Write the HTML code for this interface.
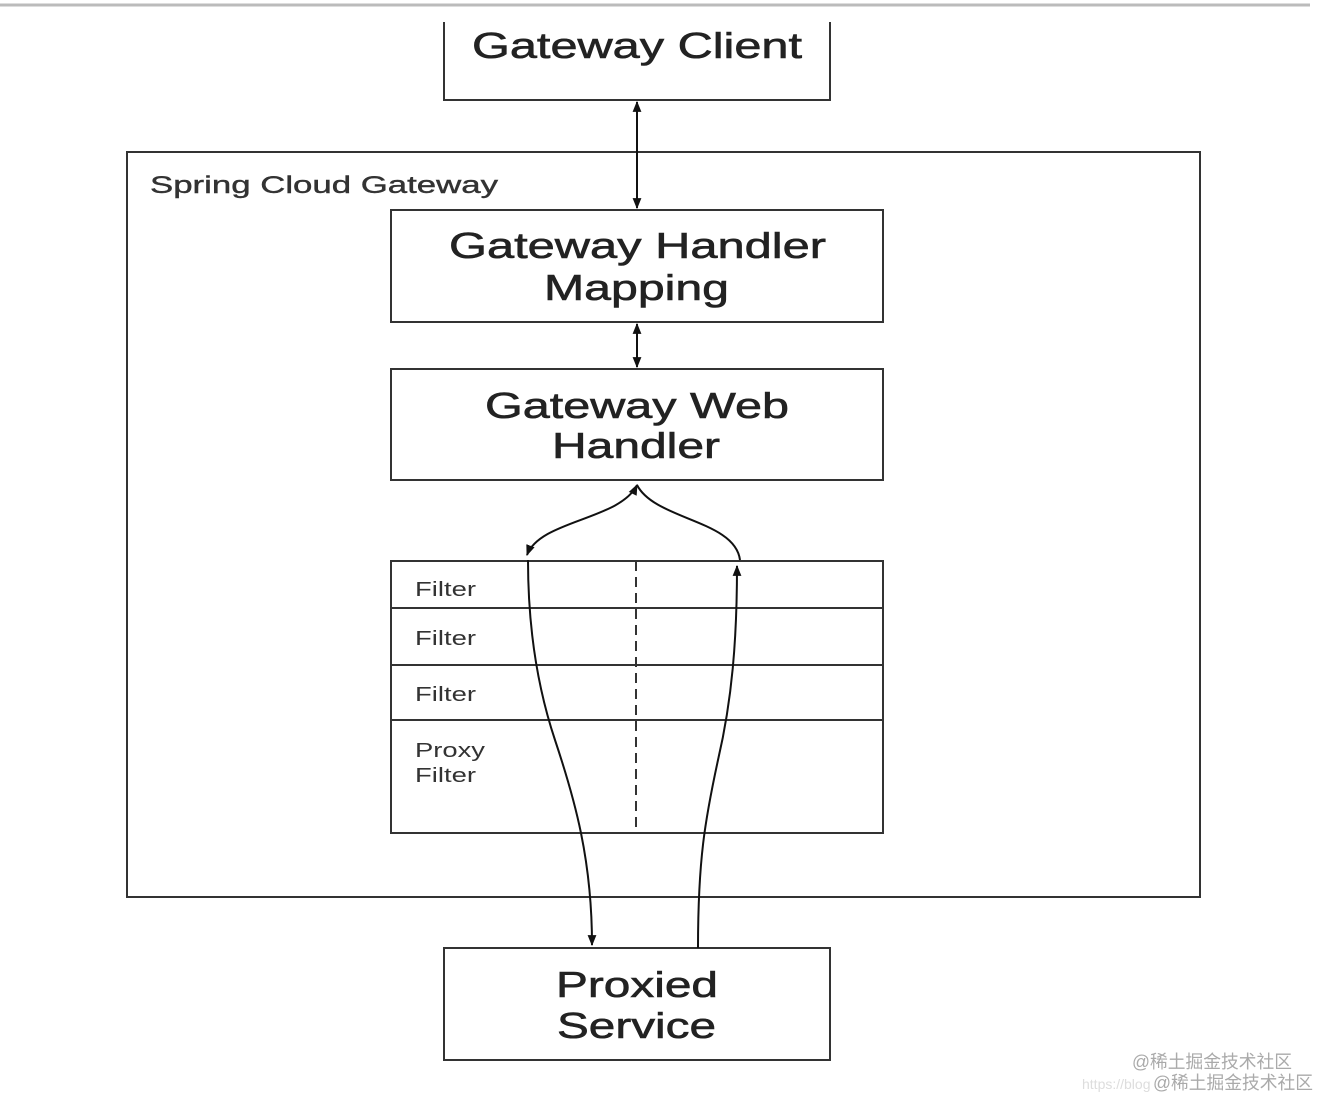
<!DOCTYPE html>
<html><head><meta charset="utf-8"><style>html,body{margin:0;padding:0;background:#fff}svg{display:block}</style></head>
<body>
<svg width="1320" height="1100" viewBox="0 0 1320 1100" xmlns="http://www.w3.org/2000/svg" font-family="'Liberation Sans', sans-serif">
<defs>
<marker id="a" viewBox="0 0 10 10" refX="9" refY="5" markerWidth="11" markerHeight="11" orient="auto-start-reverse" markerUnits="userSpaceOnUse"><path d="M0,1 L10,5 L0,9 z" fill="#111"/></marker>
</defs>
<line x1="0" y1="5" x2="1310" y2="5" stroke="#bbb" stroke-width="3"/>
<g fill="none" stroke="#333" stroke-width="2">
<path d="M444,22 V100 H830 V22"/>
<rect x="127" y="152" width="1073" height="745"/>
<rect x="391" y="210" width="492" height="112"/>
<rect x="391" y="369" width="492" height="111"/>
<rect x="391" y="561" width="492" height="272"/>
<line x1="391" y1="608" x2="883" y2="608"/>
<line x1="391" y1="665" x2="883" y2="665"/>
<line x1="391" y1="720" x2="883" y2="720"/>
<line x1="636" y1="561" x2="636" y2="833" stroke-dasharray="10,6"/>
<rect x="444" y="948" width="386" height="112"/>
</g>
<g fill="none" stroke="#111" stroke-width="2">
<line x1="637" y1="102" x2="637" y2="208" marker-start="url(#a)" marker-end="url(#a)"/>
<line x1="637" y1="324" x2="637" y2="367" marker-start="url(#a)" marker-end="url(#a)"/>
<path d="M637,485 C620,520 540,520 527,555" marker-end="url(#a)" marker-start="url(#a)"/>
<path d="M637,485 C655,520 735,520 740,560"/>
<path d="M528,560 C528,620 535,680 555,740 C575,800 592,860 592,945" marker-end="url(#a)"/>
<path d="M698,948 C698,860 705,820 718,760 C732,700 737,640 737,566" marker-end="url(#a)"/>
</g>
<g fill="#222" stroke="#222" stroke-width="0.6" font-size="36">
<text x="472" y="58" textLength="330" lengthAdjust="spacingAndGlyphs">Gateway Client</text>
<text x="449" y="258" textLength="377" lengthAdjust="spacingAndGlyphs">Gateway Handler</text>
<text x="544" y="300" textLength="185" lengthAdjust="spacingAndGlyphs">Mapping</text>
<text x="485" y="418" textLength="304" lengthAdjust="spacingAndGlyphs">Gateway Web</text>
<text x="552" y="458" textLength="168" lengthAdjust="spacingAndGlyphs">Handler</text>
<text x="556" y="997" textLength="162" lengthAdjust="spacingAndGlyphs">Proxied</text>
<text x="557" y="1038" textLength="159" lengthAdjust="spacingAndGlyphs">Service</text>
</g>
<text x="150" y="193" font-size="24" fill="#333" stroke="#333" stroke-width="0.4" textLength="348" lengthAdjust="spacingAndGlyphs">Spring Cloud Gateway</text>
<g fill="#333" font-size="20">
<text x="415" y="596" textLength="61" lengthAdjust="spacingAndGlyphs">Filter</text>
<text x="415" y="645" textLength="61" lengthAdjust="spacingAndGlyphs">Filter</text>
<text x="415" y="701" textLength="61" lengthAdjust="spacingAndGlyphs">Filter</text>
<text x="415" y="757" textLength="70" lengthAdjust="spacingAndGlyphs">Proxy</text>
<text x="415" y="782" textLength="61" lengthAdjust="spacingAndGlyphs">Filter</text>
</g>
<g font-family="'Liberation Sans','Noto Sans CJK SC',sans-serif" font-size="18" fill="#aaa">
<text x="1132" y="1068" textLength="160" lengthAdjust="spacingAndGlyphs">@稀土掘金技术社区</text>
<text x="1082" y="1089" fill="#ddd" font-size="14">https://blog</text>
<text x="1153" y="1089" textLength="160" lengthAdjust="spacingAndGlyphs">@稀土掘金技术社区</text>
</g>
</svg>
</body></html>
